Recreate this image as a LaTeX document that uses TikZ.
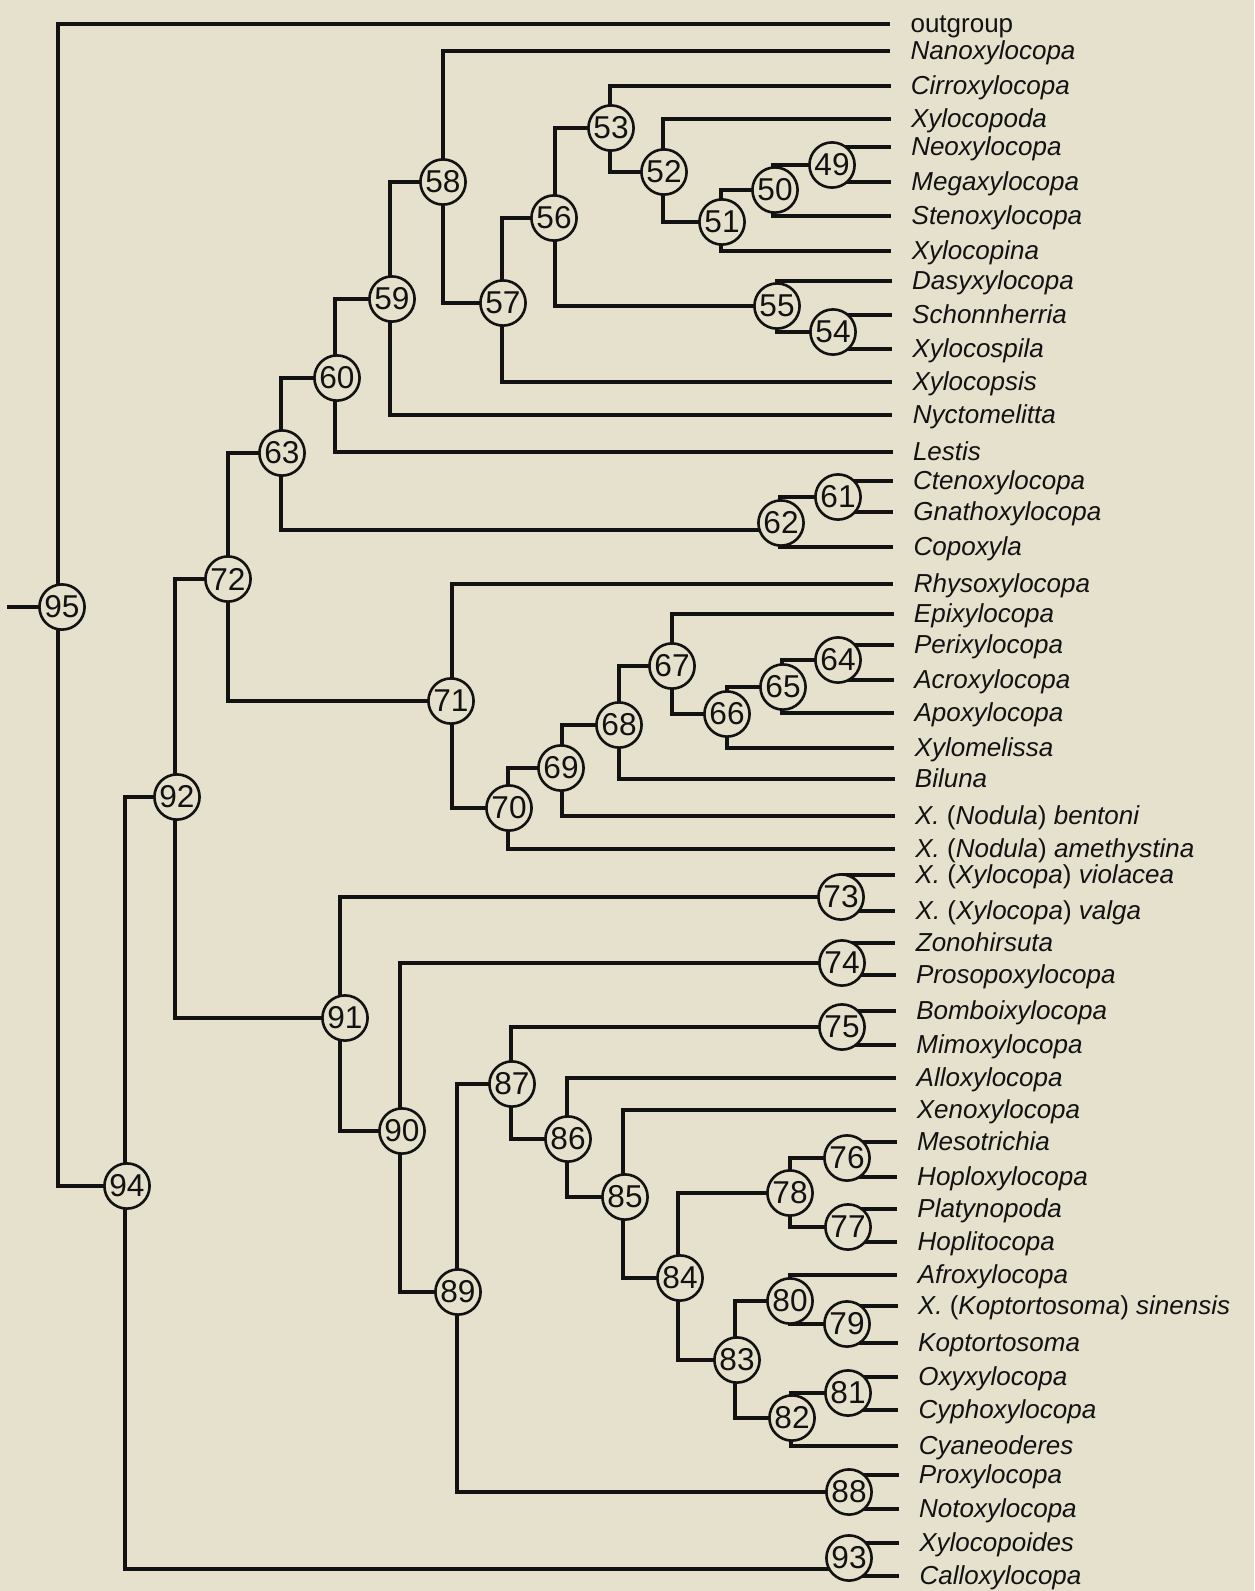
\documentclass[tikz,border=0pt]{standalone}
\usepackage{fontspec}
\setmainfont{Liberation Sans}
\pgfdeclarelayer{back}
\pgfdeclarelayer{edges}
\pgfsetlayers{back,edges,main}
\definecolor{paper}{RGB}{229,225,205}
\definecolor{ink}{RGB}{18,18,18}
\tikzset{
  cnum/.style={circle, draw=ink, line width=1.3pt, fill=paper, minimum size=22.6pt,
    inner sep=0pt, text=ink, font=\fontsize{15.8}{16}\selectfont},
  br/.style={draw=ink, line width=1.7pt, line join=miter},
  lab/.style={anchor=base west, inner sep=0pt, text=ink,
    font=\fontsize{13}{15}\selectfont\itshape},
}
% internal node: number, circle x, circle y, vertical-line x
\newcommand\cnode[4]{\node[cnum] (n#1) at (#2,#3) {#1};\coordinate (v#1) at (#4,#3);}
% branch from parent to child node
\newcommand\kid[2]{\draw[br] (v#1) |- (n#2.center);}
% terminal: id, y, parent, label
\newcommand\tip[4]{%
  \pgfmathsetmacro\tipx{890+0.0058*#2}%
  \coordinate (t#1) at (\tipx,#2);%
  \node[lab] (l#1) at (\tipx+20,#2+8) {#4};%
  \draw[br] (v#3) |- (t#1);}
\newcommand\sub[2]{\textit{X.} \textup{(}#1\textup{)} #2}
\begin{document}
\begin{tikzpicture}[x=0.5pt,y=-0.5pt]
\begin{pgfonlayer}{back}
\fill[paper] (0,0) rectangle (1254,1591);
\end{pgfonlayer}
\useasboundingbox (0,0) rectangle (1254,1591);

\cnode{95}{62}{607}{58}
\cnode{94}{127}{1186}{125}
\cnode{92}{177}{797}{175}
\cnode{72}{228}{579}{228}
\cnode{63}{282}{453}{281}
\cnode{60}{337}{378}{335}
\cnode{59}{392}{299}{390}
\cnode{58}{443}{182}{443}
\cnode{57}{503}{303}{502}
\cnode{56}{554}{218}{555}
\cnode{53}{611}{128}{610}
\cnode{52}{664}{172}{663}
\cnode{51}{722}{222}{721}
\cnode{50}{775}{190}{773}
\cnode{49}{832}{165}{832}
\cnode{55}{777}{306}{777}
\cnode{54}{833}{332}{833}
\cnode{62}{781}{523}{780}
\cnode{61}{838}{497}{838}
\cnode{71}{451}{701}{452}
\cnode{70}{509}{808}{508}
\cnode{69}{561}{768}{562}
\cnode{68}{619}{725}{619}
\cnode{67}{672}{666}{672}
\cnode{66}{727}{714}{727}
\cnode{65}{783}{687}{782}
\cnode{64}{838}{660}{838}
\cnode{91}{345}{1018}{340}
\cnode{73}{841}{897}{841}
\cnode{90}{402}{1131}{400}
\cnode{74}{842}{963}{842}
\cnode{89}{458}{1292}{457}
\cnode{87}{512}{1084}{511}
\cnode{75}{842}{1027}{842}
\cnode{86}{568}{1139}{567}
\cnode{85}{625}{1197}{623}
\cnode{84}{680}{1278}{678}
\cnode{78}{790}{1193}{790}
\cnode{76}{847}{1158}{847}
\cnode{77}{848}{1227}{848}
\cnode{83}{737}{1360}{735}
\cnode{80}{790}{1301}{790}
\cnode{79}{847}{1324}{847}
\cnode{82}{792}{1418}{791}
\cnode{81}{848}{1393}{848}
\cnode{88}{849}{1492}{849}
\cnode{93}{849}{1558}{849}

\begin{pgfonlayer}{edges}
\coordinate (root) at (7,607);
\draw[br] (root) -- (n95.center);
\kid{95}{94}
\kid{94}{92}
\draw[br] (v94) |- ([yshift=-5.5pt]n93.center);
\kid{92}{72}\kid{92}{91}
\kid{72}{63}\kid{72}{71}
\kid{63}{60}
\draw[br] (v63) |- ([yshift=-3.5pt]n62.center);
\kid{60}{59}\kid{59}{58}\kid{58}{57}\kid{57}{56}
\kid{56}{53}\kid{56}{55}\kid{53}{52}\kid{52}{51}\kid{51}{50}\kid{50}{49}
\kid{55}{54}\kid{62}{61}
\kid{71}{70}\kid{70}{69}\kid{69}{68}\kid{68}{67}\kid{67}{66}\kid{66}{65}\kid{65}{64}
\kid{91}{73}\kid{91}{90}\kid{90}{74}\kid{90}{89}
\kid{89}{87}\kid{89}{88}\kid{87}{75}\kid{87}{86}\kid{86}{85}\kid{85}{84}
\kid{84}{78}\kid{84}{83}\kid{78}{76}\kid{78}{77}
\kid{83}{80}\kid{83}{82}\kid{80}{79}\kid{82}{81}

\tip{outgroup}{24}{95}{\textup{outgroup}}
\tip{nano}{51}{58}{Nanoxylocopa}
\tip{cirro}{86}{53}{Cirroxylocopa}
\tip{xpoda}{119}{52}{Xylocopoda}
\tip{neo}{147}{49}{Neoxylocopa}
\tip{mega}{182}{49}{Megaxylocopa}
\tip{steno}{216}{50}{Stenoxylocopa}
\tip{xpina}{251}{51}{Xylocopina}
\tip{dasy}{281}{55}{Dasyxylocopa}
\tip{schon}{315}{54}{Schonnherria}
\tip{xspila}{349}{54}{Xylocospila}
\tip{xpsis}{382}{57}{Xylocopsis}
\tip{nycto}{415}{59}{Nyctomelitta}
\tip{lestis}{452}{60}{Lestis}
\tip{cteno}{481}{61}{Ctenoxylocopa}
\tip{gnatho}{512}{61}{Gnathoxylocopa}
\tip{copo}{547}{62}{Copoxyla}
\tip{rhyso}{584}{71}{Rhysoxylocopa}
\tip{epi}{614}{67}{Epixylocopa}
\tip{peri}{645}{64}{Perixylocopa}
\tip{acro}{680}{64}{Acroxylocopa}
\tip{apo}{713}{65}{Apoxylocopa}
\tip{xmel}{748}{66}{Xylomelissa}
\tip{biluna}{779}{68}{Biluna}
\tip{bentoni}{816}{69}{\sub{Nodula}{bentoni}}
\tip{ameth}{849}{70}{\sub{Nodula}{amethystina}}
\tip{viol}{875}{73}{\sub{Xylocopa}{violacea}}
\tip{valga}{911}{73}{\sub{Xylocopa}{valga}}
\tip{zono}{943}{74}{Zonohirsuta}
\tip{proso}{975}{74}{Prosopoxylocopa}
\tip{bombo}{1011}{75}{Bomboixylocopa}
\tip{mimo}{1045}{75}{Mimoxylocopa}
\tip{allo}{1078}{86}{Alloxylocopa}
\tip{xeno}{1110}{85}{Xenoxylocopa}
\tip{meso}{1142}{76}{Mesotrichia}
\tip{hoplo}{1177}{76}{Hoploxylocopa}
\tip{platy}{1209}{77}{Platynopoda}
\tip{hoplit}{1242}{77}{Hoplitocopa}
\tip{afro}{1275}{80}{Afroxylocopa}
\tip{sin}{1306}{79}{\sub{Koptortosoma}{sinensis}}
\tip{kopt}{1343}{79}{Koptortosoma}
\tip{oxy}{1377}{81}{Oxyxylocopa}
\tip{cypho}{1410}{81}{Cyphoxylocopa}
\tip{cyan}{1446}{82}{Cyaneoderes}
\tip{proxy}{1475}{88}{Proxylocopa}
\tip{noto}{1509}{88}{Notoxylocopa}
\tip{xpoid}{1543}{93}{Xylocopoides}
\tip{callo}{1576}{93}{Calloxylocopa}
\end{pgfonlayer}
\end{tikzpicture}
\end{document}
